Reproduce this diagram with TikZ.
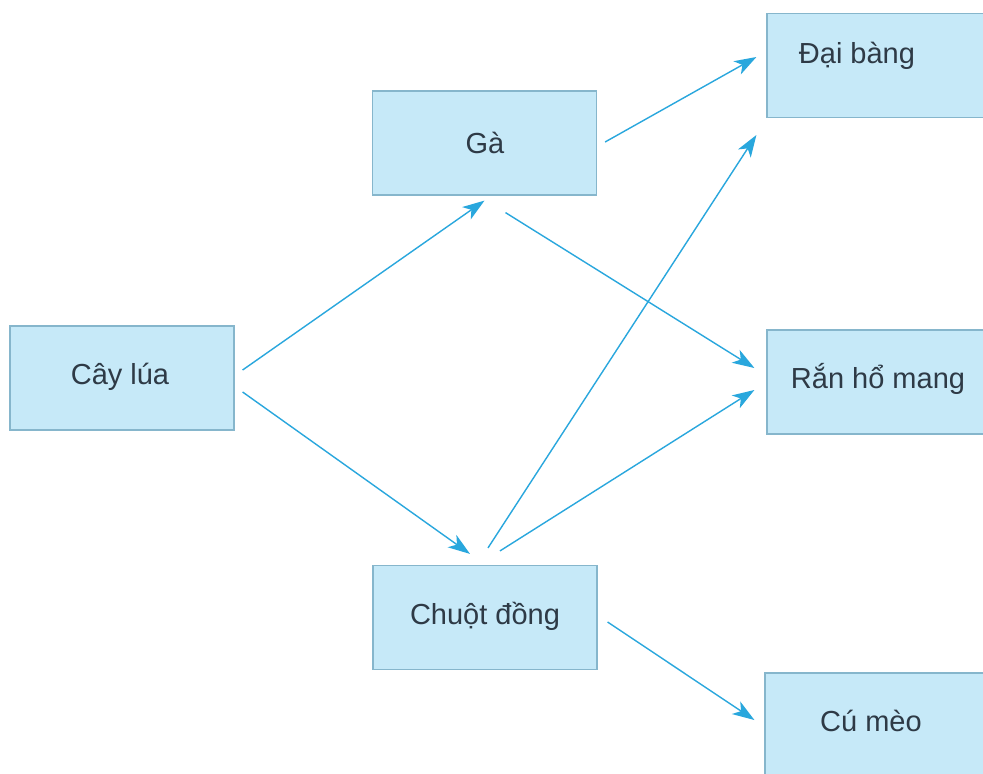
\documentclass[tikz,border=0pt]{standalone}
\usepackage{fontspec}
\setmainfont{Liberation Sans}
\usetikzlibrary{arrows.meta}
\definecolor{boxfill}{HTML}{C6E9F8}
\definecolor{boxline}{HTML}{86B6CC}
\definecolor{arr}{HTML}{29A7DD}
\definecolor{txt}{HTML}{2E3A46}
\tikzset{
  box/.style={draw=boxline, line width=1.2pt, fill=boxfill, rectangle, inner sep=0pt,
    minimum width=224pt, minimum height=104pt},
  lbl/.style={text=txt, font=\fontsize{29}{34}\selectfont, inner sep=0pt},
  link/.style={draw=arr, line width=1.4pt, -{Stealth[length=22pt,width=15pt,inset=6pt]}}
}
\begin{document}
\begin{tikzpicture}[x=1pt,y=-1pt]
\useasboundingbox (0,0) rectangle (983,774);
\clip (0,0) rectangle (983,774);
\fill[white] (0,0) rectangle (983,774);
\node[box] (lua) at (122,378) {};
\node[box] (ga) at (484.5,143) {};
\node[box] (chuot) at (485,617.5) {};
\node[box] (db) at (879,65.5) {};
\node[box] (ran) at (879,382) {};
\node[box] (cu) at (877,725) {};
\node[lbl] (tlua) at (120,377) {Cây lúa};
\node[lbl] (tga) at (485,143) {Gà};
\node[lbl] (tchuot) at (485,616) {Chuột đồng};
\node[lbl] (tdb) at (857,56) {Đại bàng};
\node[lbl] (tran) at (878,379) {Rắn hổ mang};
\node[lbl] (tcu) at (871,721) {Cú mèo};
\draw[link] ([shift={(8,-8)}]lua.east) -- ([shift={(0,5)}]ga.south);
\draw[link] ([shift={(8,14)}]lua.east) -- ([shift={(-15,-11)}]chuot.north);
\draw[link] ([shift={(8,-1)}]ga.east) -- ([shift={(-10,-8.5)}]db.west);
\draw[link] ([shift={(21,17)}]ga.south) -- ([shift={(-12,-14)}]ran.west);
\draw[link] ([shift={(3,-17)}]chuot.north) -- ([shift={(-10,69.5)}]db.west);
\draw[link] ([shift={(15,-14)}]chuot.north) -- ([shift={(-12,8)}]ran.west);
\draw[link] ([shift={(10,4.5)}]chuot.east) -- ([shift={(-10,-5)}]cu.west);
\end{tikzpicture}
\end{document}
